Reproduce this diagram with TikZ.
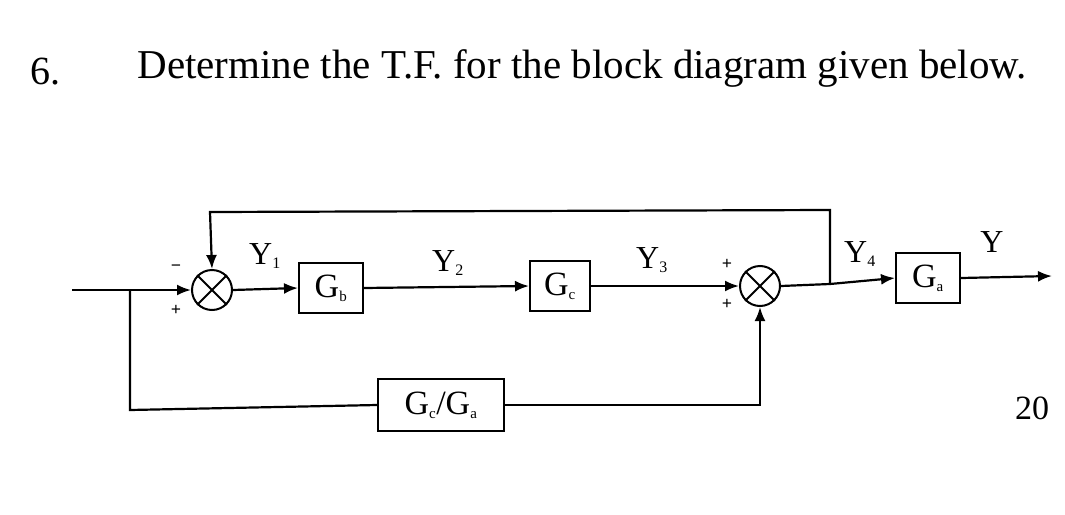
\documentclass[tikz,border=0pt]{standalone}
\usepackage{fontspec}
\setmainfont{Liberation Serif}
\usetikzlibrary{arrows.meta}
\begin{document}
\begin{tikzpicture}[x=1pt,y=-1pt,line width=2.2pt,
  blk/.style={draw,line width=2pt,minimum width=64pt,minimum height=50pt,inner sep=0pt,font=\fontsize{34}{34}\selectfont},
  sumj/.style={draw,circle,line width=2pt,minimum size=40pt,inner sep=0pt},
  lbl/.style={font=\fontsize{32}{32}\selectfont,inner sep=0pt},
  sgn/.style={font=\bfseries\fontsize{18}{18}\selectfont,inner sep=0pt},
  arr/.style={-{Latex[length=14pt,width=11pt]}}]
\useasboundingbox (0,0) rectangle (1065,514);
\node[anchor=west,font=\fontsize{40}{40}\selectfont] (num) at (26,72) {6.};
\node[anchor=west,font=\fontsize{41}{41}\selectfont] (title) at (133,68) {Determine the T.F. for the block diagram given below.};
\node[sumj] (s1) at (212,290) {};
\draw[line width=2pt] (s1.north west) -- (s1.south east) (s1.north east) -- (s1.south west);
\node[sumj] (s2) at (760,286) {};
\draw[line width=2pt] (s2.north west) -- (s2.south east) (s2.north east) -- (s2.south west);
\node[blk] (gb) at (331,288) {G\textsubscript{\fontsize{15}{15}\selectfont b}};
\node[blk,minimum width=60pt] (gc) at (560,286) {G\textsubscript{\fontsize{15}{15}\selectfont c}};
\node[blk] (ga) at (928,278) {G\textsubscript{\fontsize{15}{15}\selectfont a}};
\node[blk,minimum width=126pt,minimum height=52pt] (gca) at (441,405) {G\textsubscript{\fontsize{15}{15}\selectfont c}/G\textsubscript{\fontsize{15}{15}\selectfont a}};
\coordinate (in) at (72,290);
\coordinate (br1) at (130,290);
\coordinate (br2) at (830,284);
\coordinate (out) at (1052,276);
\draw[arr] (in) -- (s1.west);
\draw[arr] (s1.east) -- (gb.west);
\draw[arr] (gb.east) -- (gc.west);
\draw[arr] (gc.east) -- (s2.west);
\draw (s2.east) -- (br2);
\draw[arr] (br2) -- (ga.west);
\draw[arr] (ga.east) -- (out);
\draw[arr] (br2) -- (830,210) -- (210,212) -- (s1.north);
\draw (br1) -- (130,410) -- (gca.west);
\draw[arr] (gca.east) -- (760,405) -- (s2.south);
\node[sgn] (m1) at (176,268) {\textminus};
\node[sgn] (p1) at (176,310) {+};
\node[sgn] (p2) at (727,264) {+};
\node[sgn] (p3) at (727,304) {+};
\node[lbl] (y1) at (265,256) {Y\textsubscript{\fontsize{16}{16}\selectfont 1}};
\node[lbl] (y2) at (448,263) {Y\textsubscript{\fontsize{16}{16}\selectfont 2}};
\node[lbl] (y3) at (652,260) {Y\textsubscript{\fontsize{16}{16}\selectfont 3}};
\node[lbl] (y4) at (860,254) {Y\textsubscript{\fontsize{16}{16}\selectfont 4}};
\node[lbl] (y) at (992,242) {Y};
\node[font=\fontsize{34}{34}\selectfont] (n20) at (1032,408) {20};
\end{tikzpicture}
\end{document}
